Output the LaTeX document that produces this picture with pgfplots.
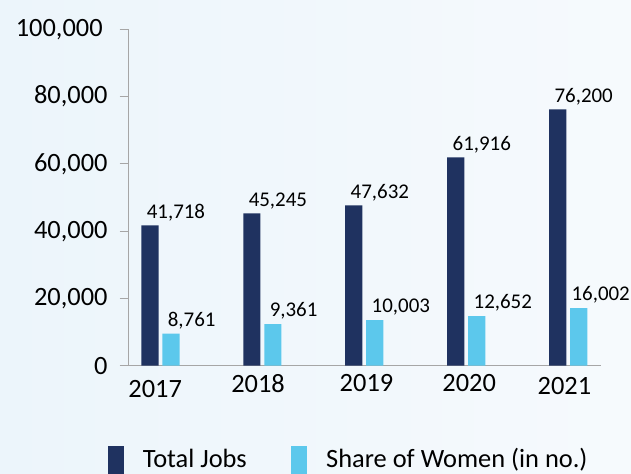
\documentclass[border=0pt]{standalone}
\usepackage{fontspec}
\setmainfont{Carlito}
\usepackage{pgfplots}
\pgfplotsset{compat=1.18}
\usepackage{pgfplotstable}
\definecolor{navy}{RGB}{31,50,96}
\definecolor{sky}{RGB}{92,200,236}
\definecolor{axgray}{RGB}{166,166,166}
\definecolor{bgl}{RGB}{236,245,251}
\definecolor{bgr}{RGB}{246,250,253}

\pgfplotstableread{
x y label
0 41718 41,718
1 45245 45,245
2 47632 47,632
3 61916 61,916
4 76200 76,200
}\totaljobs
\pgfplotstableread{
x y label
0 9510 8,761
1 12390 9,361
2 13580 10,003
3 14770 12,652
4 17150 \hspace*{-4bp}16,002
}\women

\begin{document}
\begin{tikzpicture}
\fill[left color=bgl,right color=bgr] (0bp,0bp) rectangle (631bp,474bp);
\begin{axis}[
  at={(128.2bp,108.3bp)}, anchor=south west,
  scale only axis, width=472.6bp, height=336.4bp,
  xmin=-0.316, xmax=4.32, ymin=0, ymax=100000,
  axis x line=bottom, axis y line=left,
  axis line style={draw=axgray, line width=1.2bp, -},
  tick align=outside, major tick length=8.5bp,
  ytick={0,20000,40000,60000,80000,100000},
  yticklabels={0,{20,000},{40,000},{60,000},{80,000},{100,000\hspace*{4.8bp}}},
  ytick style={draw=axgray, line width=1.2bp},
  xtick={0,1,2,3,4},
  xticklabels={{\raisebox{-6bp}[\height]{2017}\hspace*{10.4bp}},{2018\hspace*{8.6bp}},{\hspace*{4.4bp}2019},{\hspace*{5.8bp}2020},{\raisebox{-2.7bp}[\height]{2021}\hspace*{7.4bp}}},
  xtick style={draw=none},
  tick label style={font=\fontsize{26.5}{30}\selectfont, text=black},
  yticklabel style={anchor=east, inner sep=0pt, xshift=-12bp},
  xticklabel style={anchor=north, inner sep=0pt},
  scaled y ticks=false,
  clip=false,
  point meta=explicit symbolic,
  nodes near coords,
  every node near coord/.append style={anchor=base west, inner sep=0pt, yshift=7.3bp, font=\fontsize{21}{25}\selectfont, text=black},
  legend columns=2,
  legend style={at={(-0.0434,-0.2396)}, anchor=north west, draw=none, fill=none, inner sep=0pt, outer sep=0pt,
    font=\fontsize{26.5}{30}\selectfont, cells={anchor=base west}, nodes={inner sep=0pt, text=black},
    column sep=0pt, /tikz/every odd column/.append style={column sep=19bp},
    /tikz/every even column/.append style={column sep=44.3bp}},
]
\addplot[ybar, bar width=17.2bp, bar shift=-10.5bp, fill=navy, draw=none,
  every node near coord/.append style={xshift=-13.8bp},
  legend image code/.code={\fill[navy] (0bp,-12bp) rectangle (16.1bp,21.7bp);}]
  table[x=x, y=y, meta=label]{\totaljobs};
\addlegendentry{Total Jobs}
\addplot[ybar, bar width=17.2bp, bar shift=10.5bp, fill=sky, draw=none,
  every node near coord/.append style={xshift=7.2bp},
  legend image code/.code={\fill[sky] (0bp,-12bp) rectangle (16.1bp,21.7bp);}]
  table[x=x, y=y, meta=label]{\women};
\addlegendentry{Share of Women (in no.)}
\end{axis}
\pgfresetboundingbox
\useasboundingbox (0bp,0bp) rectangle (631bp,474bp);
\end{tikzpicture}
\end{document}
